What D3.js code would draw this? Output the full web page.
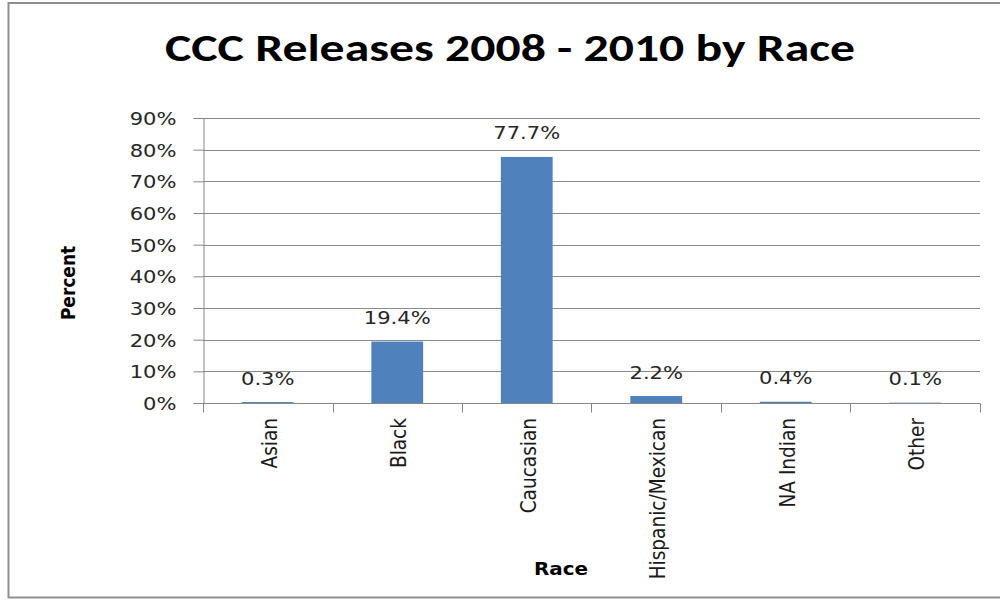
<!DOCTYPE html>
<html>
<head>
<meta charset="utf-8">
<script src="https://cdn.jsdelivr.net/npm/d3@7"></script>
<style>
  html, body { margin: 0; padding: 0; background: #fff; }
  svg { display: block; }
</style>
</head>
<body>
<svg id="chart" width="1000" height="600"></svg>
<script>
const categories = ["Asian", "Black", "Caucasian", "Hispanic/Mexican", "NA Indian", "Other"];
const values = [0.3, 19.4, 77.7, 2.2, 0.4, 0.1];
const yTicks = [0, 10, 20, 30, 40, 50, 60, 70, 80, 90];
const titleText = "CCC Releases 2008 - 2010 by Race";
const xTitle = "Race";
const yTitle = "Percent";

const svg = d3.select("#chart");
const W = 1000, H = 600;
const margin = { left: 203, right: 20, top: 118, bottom: 197 };
const SX = 1.17; // horizontal stretch of the original rendering
const font = "'DejaVu Sans', Verdana, sans-serif";

svg.append("rect").attr("width", W).attr("height", H).attr("fill", "#fff");
// outer frame
svg.append("rect")
  .attr("x", 8.5).attr("y", 3).attr("width", 1000).attr("height", 594.5)
  .attr("fill", "none").attr("stroke", "#8f8f8f").attr("stroke-width", 2);

const x = d3.scaleBand().domain(categories)
  .range([margin.left, W - margin.right])
  .paddingInner(0.6).paddingOuter(0.3);
const y = d3.scaleLinear().domain([0, 90]).range([H - margin.bottom, margin.top]);

// gridlines
svg.append("g").selectAll("line").data(yTicks.filter(d => d > 0)).join("line")
  .attr("x1", margin.left).attr("x2", W - margin.right)
  .attr("y1", d => Math.round(y(d)) + 0.5).attr("y2", d => Math.round(y(d)) + 0.5)
  .attr("stroke", "#8a8a8a").attr("stroke-width", 1);

// bars
svg.append("g").selectAll("rect").data(values).join("rect")
  .attr("x", (d, i) => x(categories[i]))
  .attr("width", x.bandwidth())
  .attr("y", d => y(d))
  .attr("height", d => y(0) - y(d))
  .attr("fill", "#4f81bd");

// y axis
const yAxis = svg.append("g")
  .attr("transform", `translate(${margin.left + 0.5},0)`)
  .call(d3.axisLeft(y).tickValues(yTicks).tickSize(10).tickFormat(d => d + "%"));
yAxis.select(".domain").attr("stroke", "#868686");
yAxis.selectAll(".tick line").attr("stroke", "#868686");
yAxis.selectAll(".tick text").each(function () {
  const t = d3.select(this);
  const ty = +d3.select(this.parentNode).attr("transform").match(/,([\d.\-]+)/)[1];
  t.attr("x", null).attr("dy", null)
    .attr("transform", `translate(-27,6.5) scale(${SX},1)`)
    .attr("font-family", font).attr("font-size", 18).attr("fill", "#262626")
    .attr("text-anchor", "end");
});

// x axis
const step = x.step();
const xAxisG = svg.append("g").attr("transform", `translate(0,${y(0) + 0.5})`);
xAxisG.append("line").attr("x1", margin.left).attr("x2", W - margin.right)
  .attr("stroke", "#868686");
const tickPos = categories.map(c => x(c) - (step - x.bandwidth()) / 2).concat([x(categories[categories.length - 1]) + x.bandwidth() + (step - x.bandwidth()) / 2]);
xAxisG.selectAll("line.tk").data(tickPos).join("line").attr("class", "tk")
  .attr("x1", d => Math.round(d) + 0.5).attr("x2", d => Math.round(d) + 0.5)
  .attr("y1", 0).attr("y2", 9).attr("stroke", "#868686");

// category labels (rotated)
svg.append("g").selectAll("text").data(categories).join("text")
  .attr("transform", d => `translate(${x(d) + x.bandwidth() / 2 + 1},418) scale(${SX},1) rotate(-90)`)
  .attr("dy", "0.36em")
  .attr("text-anchor", "end")
  .attr("font-family", font).attr("font-size", 18.5).attr("fill", "#1a1a1a")
  .text(d => d);

// data labels
svg.append("g").selectAll("text").data(values).join("text")
  .attr("transform", (d, i) => `translate(${x(categories[i]) + x.bandwidth() / 2},${y(d) - 17.5}) scale(${SX},1)`)
  .attr("text-anchor", "middle")
  .attr("font-family", font).attr("font-size", 18).attr("fill", "#262626")
  .text(d => d.toFixed(1) + "%");

// title
svg.append("text")
  .attr("x", 510).attr("y", 61)
  .attr("text-anchor", "middle")
  .attr("font-family", "Carlito, 'Open Sans', sans-serif")
  .attr("font-weight", "bold").attr("font-size", 39)
  .attr("textLength", 690).attr("lengthAdjust", "spacingAndGlyphs")
  .attr("fill", "#000")
  .text(titleText);

// axis titles
svg.append("text")
  .attr("transform", `translate(561,575) scale(${SX},1)`)
  .attr("text-anchor", "middle")
  .attr("font-family", font).attr("font-weight", "bold").attr("font-size", 17)
  .attr("fill", "#000")
  .text(xTitle);
svg.append("text")
  .attr("transform", `translate(75,283) scale(${SX},1) rotate(-90)`)
  .attr("text-anchor", "middle")
  .attr("font-family", font).attr("font-weight", "bold").attr("font-size", 17)
  .attr("fill", "#000")
  .text(yTitle);
</script>
</body>
</html>
